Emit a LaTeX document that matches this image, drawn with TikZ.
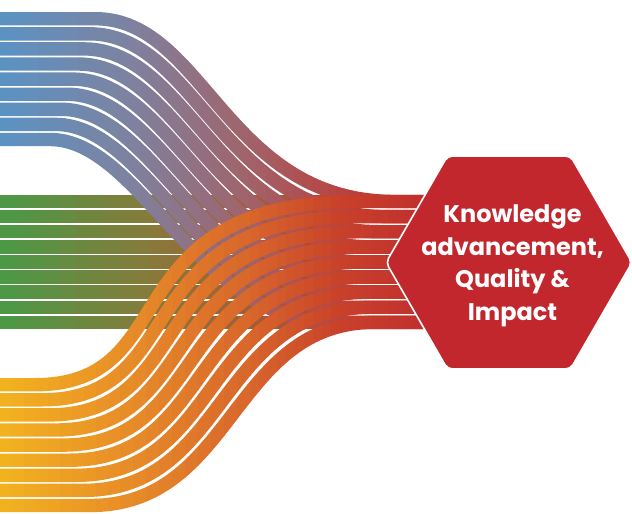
\documentclass[tikz,border=0pt]{standalone}
\usepackage{fontspec}
\setmainfont{Poppins}
\usetikzlibrary{shapes.geometric}

\definecolor{bandred}{HTML}{C2302E}
\definecolor{hexred}{HTML}{C1272D}
\definecolor{blueA}{HTML}{5A93C3}
\definecolor{blueB}{HTML}{7E82A0}
\definecolor{blueC}{HTML}{9C6872}
\definecolor{blueD}{HTML}{B34B4A}
\definecolor{greenA}{HTML}{4A9A46}
\definecolor{greenB}{HTML}{877A3A}
\definecolor{greenC}{HTML}{A65A35}
\definecolor{orangeA}{HTML}{F3B31E}
\definecolor{orangeB}{HTML}{E88F28}
\definecolor{orangeC}{HTML}{D8662B}
\definecolor{orangeD}{HTML}{C8412A}

\tikzset{
    band/.style={line width=13.4pt},
    hexbox/.style={regular polygon, regular polygon sides=6, minimum size=246pt,
        inner sep=0pt, fill=hexred, draw=white, line width=1.6pt, rounded corners=5pt},
    hextext/.style={text=white, align=center, font=\fontsize{24}{32.5}\selectfont\bfseries}
}

\begin{document}
\begin{tikzpicture}[x=1pt, y=-1pt]
        \useasboundingbox (0,0) rectangle (632,514);
        % green bundle, straight
        \foreach \xa/\xb/\ca/\cb in {0/150/greenA/greenB, 150/260/greenB/greenC,
                260/400/greenC/bandred, 400/470/bandred/bandred} {
            \foreach \k in {0,...,9} {
                \pgfmathsetmacro{\xl}{\xa+(\xb-\xa)*\k/10}
                \pgfmathsetmacro{\xr}{\xl+(\xb-\xa)/10+0.4}
                \pgfmathsetmacro{\pc}{100-(\k+0.5)*10}
                \begin{scope}
                    \clip (\xl,0) rectangle (\xr,514);
                    \foreach \i in {0,...,8}
                        \draw[band, draw=\ca!\pc!\cb] (-10,201.5+15.1*\i) -- (470,201.5+15.1*\i);
                \end{scope}
            }
        }
        % blue bundle, going down
        \foreach \xa/\xb/\ca/\cb in {0/130/blueA/blueB, 130/230/blueB/blueC,
                230/320/blueC/blueD, 320/400/blueD/bandred, 400/470/bandred/bandred} {
            \foreach \k in {0,...,9} {
                \pgfmathsetmacro{\xl}{\xa+(\xb-\xa)*\k/10}
                \pgfmathsetmacro{\xr}{\xl+(\xb-\xa)/10+0.4}
                \pgfmathsetmacro{\pc}{100-(\k+0.5)*10}
                \begin{scope}
                    \clip (\xl,0) rectangle (\xr,514);
                    \foreach \i in {0,...,8} {
                        \pgfmathsetmacro{\yl}{18.7+15.1*\i}
                        \pgfmathsetmacro{\yr}{201.5+15.1*\i}
                        \draw[band, draw=\ca!\pc!\cb] (-10,\yl) -- ({95-5.625*\i},\yl)
                            .. controls ({205-8.125*\i},\yl) and ({225-3.125*\i},\yr) .. ({395-8.125*\i},\yr)
                            -- (470,\yr);
                    }
                \end{scope}
            }
        }
        % orange bundle, going up
        \foreach \xa/\xb/\ca/\cb in {0/120/orangeA/orangeB, 120/250/orangeB/orangeC,
                250/340/orangeC/orangeD, 340/420/orangeD/bandred, 420/470/bandred/bandred} {
            \foreach \k in {0,...,9} {
                \pgfmathsetmacro{\xl}{\xa+(\xb-\xa)*\k/10}
                \pgfmathsetmacro{\xr}{\xl+(\xb-\xa)/10+0.4}
                \pgfmathsetmacro{\pc}{100-(\k+0.5)*10}
                \begin{scope}
                    \clip (\xl,0) rectangle (\xr,514);
                    \foreach \i in {0,...,8} {
                        \pgfmathsetmacro{\yl}{384.7+15.1*\i}
                        \pgfmathsetmacro{\yr}{201.5+15.1*\i}
                        \draw[band, draw=\ca!\pc!\cb] (-10,\yl) -- ({35+6.875*\i},\yl)
                            .. controls ({188+5.875*\i},\yl) and ({107+15.5*\i},\yr) .. ({360+1.875*\i},\yr)
                            -- (470,\yr);
                    }
                \end{scope}
            }
        }
        \node[hexbox] (hex) at (509,262.5) {};
        \node[hextext] (label) at (512.5,266) {Knowledge\\advancement,\\Quality \&\\Impact};
\end{tikzpicture}
\end{document}
